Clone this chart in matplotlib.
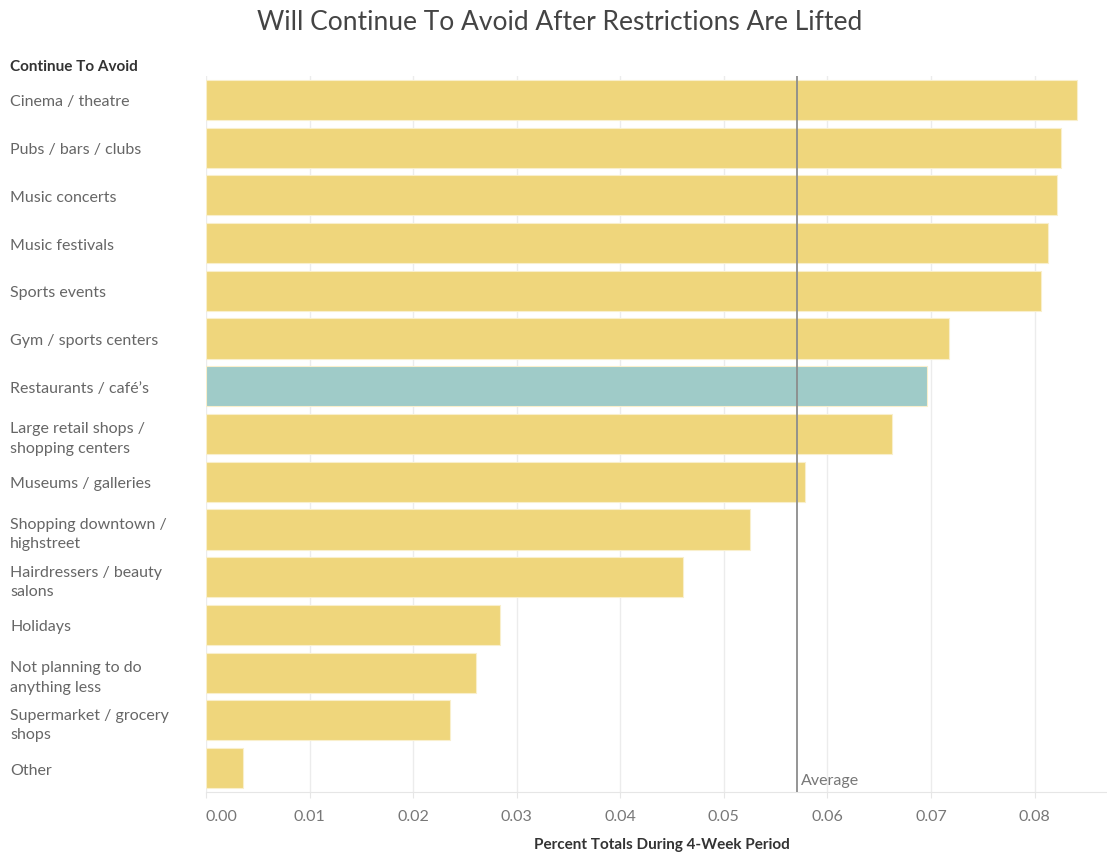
import numpy as np
import matplotlib
matplotlib.use('Agg')
import matplotlib.pyplot as plt

categories = ["Cinema / theatre", "Pubs / bars / clubs", "Music concerts",
              "Music festivals", "Sports events", "Gym / sports centers",
              "Restaurants / café’s", "Large retail shops /\nshopping centers",
              "Museums / galleries", "Shopping downtown /\nhighstreet",
              "Hairdressers / beauty\nsalons", "Holidays",
              "Not planning to do\nanything less", "Supermarket / grocery\nshops",
              "Other"]
values = [0.0841, 0.0826, 0.0822, 0.0813, 0.0806, 0.0717, 0.0696, 0.0662,
          0.0578, 0.0525, 0.0461, 0.0284, 0.0261, 0.0236, 0.0036]
highlight = "Restaurants / café’s"
xticks = [0.0, 0.01, 0.02, 0.03, 0.04, 0.05, 0.06, 0.07, 0.08]

plt.rcParams['font.family'] = ['Lato', 'DejaVu Sans']

fig = plt.figure(figsize=(11.07, 8.54), dpi=100)
ax = fig.add_axes([206/1107, 1 - 793/854, (1107-206)/1107, (793-77)/854])

yellow = '#efd67c'
teal = '#9fcbc8'
colors = [teal if c == highlight else yellow for c in categories]
y = np.arange(len(categories))
ax.barh(y, values, height=0.84, color=colors, edgecolor='#f9efcc', linewidth=0.8, zorder=2)
ax.set_ylim(len(categories) - 0.5, -0.5)
ax.set_xlim(0, 0.087)

avg = np.mean(values)
ax.axvline(avg, color='#8c8c8c', lw=1.3, zorder=3)
ax.text(avg + 0.0004, len(categories) - 0.6, "Average", color='#777777', fontsize=11.5,
        va='bottom', ha='left')

ax.set_xticks(xticks)
ax.set_xticklabels(["%.2f" % t for t in xticks], color='#777777', fontsize=11.5)
ax.get_xticklabels()[0].set_ha('left')
ax.tick_params(axis='x', length=4, color='#e6e6e6', pad=8)
ax.grid(axis='x', color='#ececec', lw=1, zorder=0)

ax.set_yticks(y)
ax.set_yticklabels(categories, color='#666666', fontsize=11.5, ha='left', linespacing=1.5)
ax.tick_params(axis='y', length=0, pad=141)

for s in ['top', 'right', 'left']:
    ax.spines[s].set_visible(False)
ax.spines['bottom'].set_color('#e6e6e6')

fig.text(560/1107, 1 - 22/854, "Will Continue To Avoid After Restrictions Are Lifted",
         ha='center', va='center', fontsize=19, color='#444444')
fig.text(10/1107, 1 - 67/854, "Continue To Avoid", ha='left', va='center',
         fontsize=11, fontweight='bold', color='#333333')
fig.text(662/1107, 1 - 845/854, "Percent Totals During 4-Week Period", ha='center',
         va='center', fontsize=11, fontweight='bold', color='#333333')

fig.savefig('out.png', dpi=100)
